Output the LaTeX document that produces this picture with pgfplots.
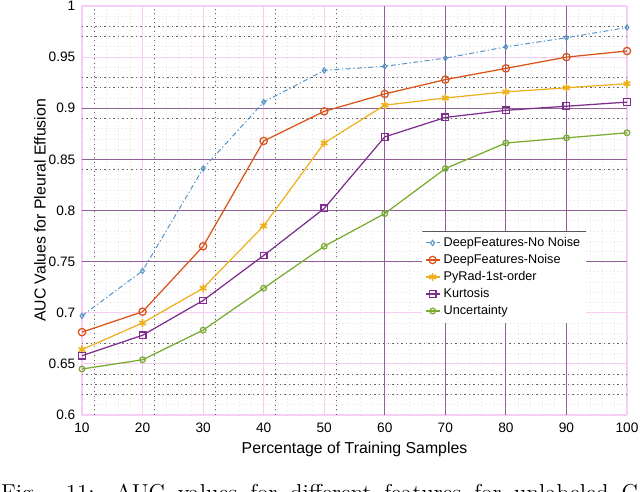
\documentclass[border=0pt]{standalone}
\usepackage{fontspec}
\setmainfont{Liberation Sans}
\newfontfamily\capfont{Latin Modern Roman}
\usepackage{pgfplots}
\pgfplotsset{compat=1.18}
\definecolor{cNo}{rgb}{0.33,0.58,0.78}
\definecolor{cNoise}{rgb}{0.85,0.325,0.098}
\definecolor{cPy}{rgb}{0.929,0.694,0.125}
\definecolor{cKu}{rgb}{0.494,0.184,0.556}
\definecolor{cUn}{rgb}{0.466,0.674,0.188}
\definecolor{gPink}{rgb}{0.97,0.80,0.97}
\definecolor{gPurp}{rgb}{0.56,0.38,0.58}
\begin{document}
\begin{tikzpicture}
\useasboundingbox (0,0) rectangle (384pt,295.2pt);
\begin{axis}[
  at={(49.2pt,46.2pt)}, anchor=south west,
  scale only axis, width=327pt, height=245.4pt,
  xmin=10, xmax=100, ymin=0.6, ymax=1,
  xtick={10,20,...,100},
  ytick={0.6,0.65,...,1.01},
  yticklabels={0.6,0.65,0.7,0.75,0.8,0.85,0.9,0.95,1},
  minor x tick num=4, minor y tick num=4,
  grid=both,
  major grid style={gPink, line width=0.7pt},
  minor grid style={gray!25, dotted, line width=0.5pt},
  axis line style={draw=none},
  major tick length=0pt, minor tick length=0pt,
  tick label style={font=\fontsize{8.2}{10}\selectfont},
  xticklabel style={yshift=-1.5pt},
  yticklabel style={xshift=-0.5pt},
  /pgf/number format/assume math mode=true,
  extra x ticks={12,22,32,42,52},
  extra x tick labels={},
  extra y ticks={0.62,0.63,0.64,0.67,0.84,0.89,0.92,0.93,0.97,0.98},
  extra y tick labels={},
  extra tick style={grid=major, major grid style={black!60, dotted, line width=0.55pt}},
  xlabel={Percentage of Training Samples},
  ylabel={AUC Values for Pleural Effusion},
  label style={font=\fontsize{9.5}{11}\selectfont},
  xlabel style={at={(axis description cs:0.5,-0.083)}, anchor=center},
  ylabel style={at={(axis description cs:-0.077,0.5)}, anchor=center},
  legend cell align=left,
  legend style={at={(0.624,0.45)}, anchor=north west, draw=none, fill=white,
    font=\fontsize{7.6}{8.5}\selectfont, inner sep=1.5pt, row sep=-0.8pt,
    path picture={\draw[black!65, line width=1.4pt] (path picture bounding box.north west) -- (path picture bounding box.north east);}},
  legend image code/.code={\draw[mark repeat=2,mark phase=2,#1] plot coordinates {(0cm,0cm)(0.15cm,0cm)(0.3cm,0cm)};},
]
% purple grid lines
\foreach \xx in {60,70,80,90} {
  \edef\temp{\noexpand\draw[gPurp, line width=0.7pt] (axis cs:\xx,0.6) -- (axis cs:\xx,1);}
  \temp
}
\foreach \yy in {0.75,0.8,0.85,0.9} {
  \edef\temp{\noexpand\draw[gPurp, line width=0.7pt] (axis cs:10,\yy) -- (axis cs:100,\yy);}
  \temp
}
\addplot[cNo, line width=0.6pt, dash pattern=on 3pt off 1.5pt on 0.8pt off 1.5pt, mark=diamond, mark size=1.6pt, mark options={solid}] coordinates {
 (10,0.697) (20,0.741) (30,0.841) (40,0.906) (50,0.937) (60,0.941) (70,0.949) (80,0.960) (90,0.969) (100,0.979)};
\addlegendentry{DeepFeatures-No Noise}
\addplot[cNoise, line width=0.75pt, mark=o, mark size=2.2pt] coordinates {
 (10,0.681) (20,0.701) (30,0.765) (40,0.868) (50,0.897) (60,0.914) (70,0.928) (80,0.939) (90,0.950) (100,0.956)};
\addlegendentry{DeepFeatures-Noise}
\addplot[cPy, line width=0.75pt, mark=asterisk, mark size=2.3pt, mark options={line width=1pt}] coordinates {
 (10,0.664) (20,0.690) (30,0.724) (40,0.785) (50,0.866) (60,0.903) (70,0.910) (80,0.916) (90,0.920) (100,0.924)};
\addlegendentry{PyRad-1st-order}
\addplot[cKu, line width=0.75pt, mark=square, mark size=2pt] coordinates {
 (10,0.658) (20,0.678) (30,0.712) (40,0.756) (50,0.802) (60,0.872) (70,0.891) (80,0.898) (90,0.902) (100,0.906)};
\addlegendentry{Kurtosis}
\addplot[cUn, line width=0.75pt, mark=o, mark size=1.7pt] coordinates {
 (10,0.645) (20,0.654) (30,0.683) (40,0.724) (50,0.765) (60,0.797) (70,0.841) (80,0.866) (90,0.871) (100,0.876)};
\addlegendentry{Uncertainty}
\end{axis}
\node[anchor=base west, inner sep=0pt, font=\capfont\fontsize{13.8}{16}\selectfont] at (0.5pt,-5.2pt) {\makebox[382pt][s]{Fig. 11: AUC values for different features for unlabeled C}};
\end{tikzpicture}
\end{document}
